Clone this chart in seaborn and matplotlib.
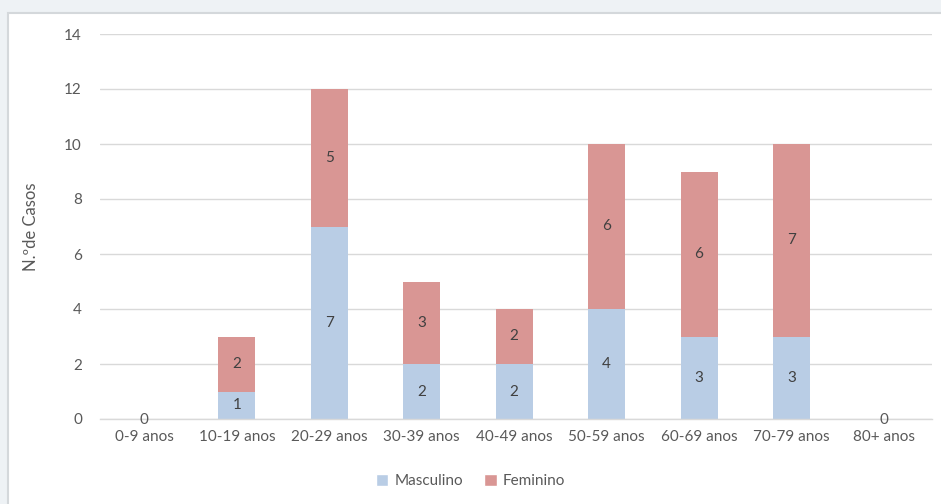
import matplotlib.pyplot as plt
import seaborn as sns
import pandas as pd
from matplotlib.patches import Patch, Rectangle

grupos = ['0-9 anos', '10-19 anos', '20-29 anos', '30-39 anos', '40-49 anos',
          '50-59 anos', '60-69 anos', '70-79 anos', '80+ anos']
masculino = [0, 1, 7, 2, 2, 4, 3, 3, 0]
feminino = [0, 2, 5, 3, 2, 6, 6, 7, 0]

cor_masc = '#B9CDE5'
cor_fem = '#D99694'
cor_txt = '#595959'

df = pd.DataFrame({'grupo': grupos, 'Masculino': masculino, 'Feminino': feminino})
df['total'] = df['Masculino'] + df['Feminino']

sns.set_style('white')
plt.rcParams['font.family'] = ['Lato', 'DejaVu Sans']

fig = plt.figure(figsize=(9.41, 5.04), dpi=100)
fig.patch.set_facecolor('#EEF2F5')
fig.patches.append(Rectangle((8 / 941, -0.01), 1.0, 1 - 13 / 504 + 0.01,
                             transform=fig.transFigure, facecolor='white',
                             edgecolor='#D4D8DB', linewidth=1.5, zorder=-5))

ax = fig.add_axes([100 / 941, 1 - 419 / 504, (932 - 100) / 941, (419 - 34) / 504])
ax.set_zorder(2)
ax.set_facecolor('none')

# stacked: total first (Feminino colour), then Masculino over it
sns.barplot(data=df, x='grupo', y='total', color=cor_fem, width=0.4,
            saturation=1, linewidth=0, ax=ax, zorder=2)
sns.barplot(data=df, x='grupo', y='Masculino', color=cor_masc, width=0.4,
            saturation=1, linewidth=0, ax=ax, zorder=3)

for i, (m, f) in enumerate(zip(masculino, feminino)):
    if m + f == 0:
        ax.text(i, -0.05, '0', ha='center', va='center', fontsize=11, color=cor_txt, zorder=5)
        continue
    if m > 0:
        ax.text(i, m / 2, str(m), ha='center', va='center', fontsize=11, color='#404040', zorder=5)
    if f > 0:
        ax.text(i, m + f / 2, str(f), ha='center', va='center', fontsize=11, color='#404040', zorder=5)

ax.set_ylim(0, 14)
ax.set_xlim(-0.48, 8.52)
ax.set_yticks(range(0, 15, 2))
ax.yaxis.grid(True, color='#D9D9D9', linewidth=1)
ax.set_axisbelow(True)
sns.despine(ax=ax, left=True)
ax.spines['bottom'].set_color('#D9D9D9')
ax.spines['bottom'].set_linewidth(1)
ax.spines['bottom'].set_zorder(4)
ax.tick_params(axis='both', length=0, labelsize=11, colors=cor_txt)
ax.tick_params(axis='y', pad=13)
ax.tick_params(axis='x', pad=8)
ax.set_xlabel('')
ax.set_ylabel('N.ºde Casos', fontsize=12, color=cor_txt, labelpad=18)

handles = [Patch(facecolor=cor_masc, label='Masculino'),
           Patch(facecolor=cor_fem, label='Feminino')]
fig.legend(handles=handles, loc='center', bbox_to_anchor=(0.5, 1 - 481 / 504), ncol=2,
           frameon=False, fontsize=11, handlelength=0.8, handleheight=0.8,
           handletextpad=0.4, columnspacing=1.4, labelcolor=cor_txt)

fig.savefig('out.png', dpi=100, facecolor=fig.get_facecolor())
